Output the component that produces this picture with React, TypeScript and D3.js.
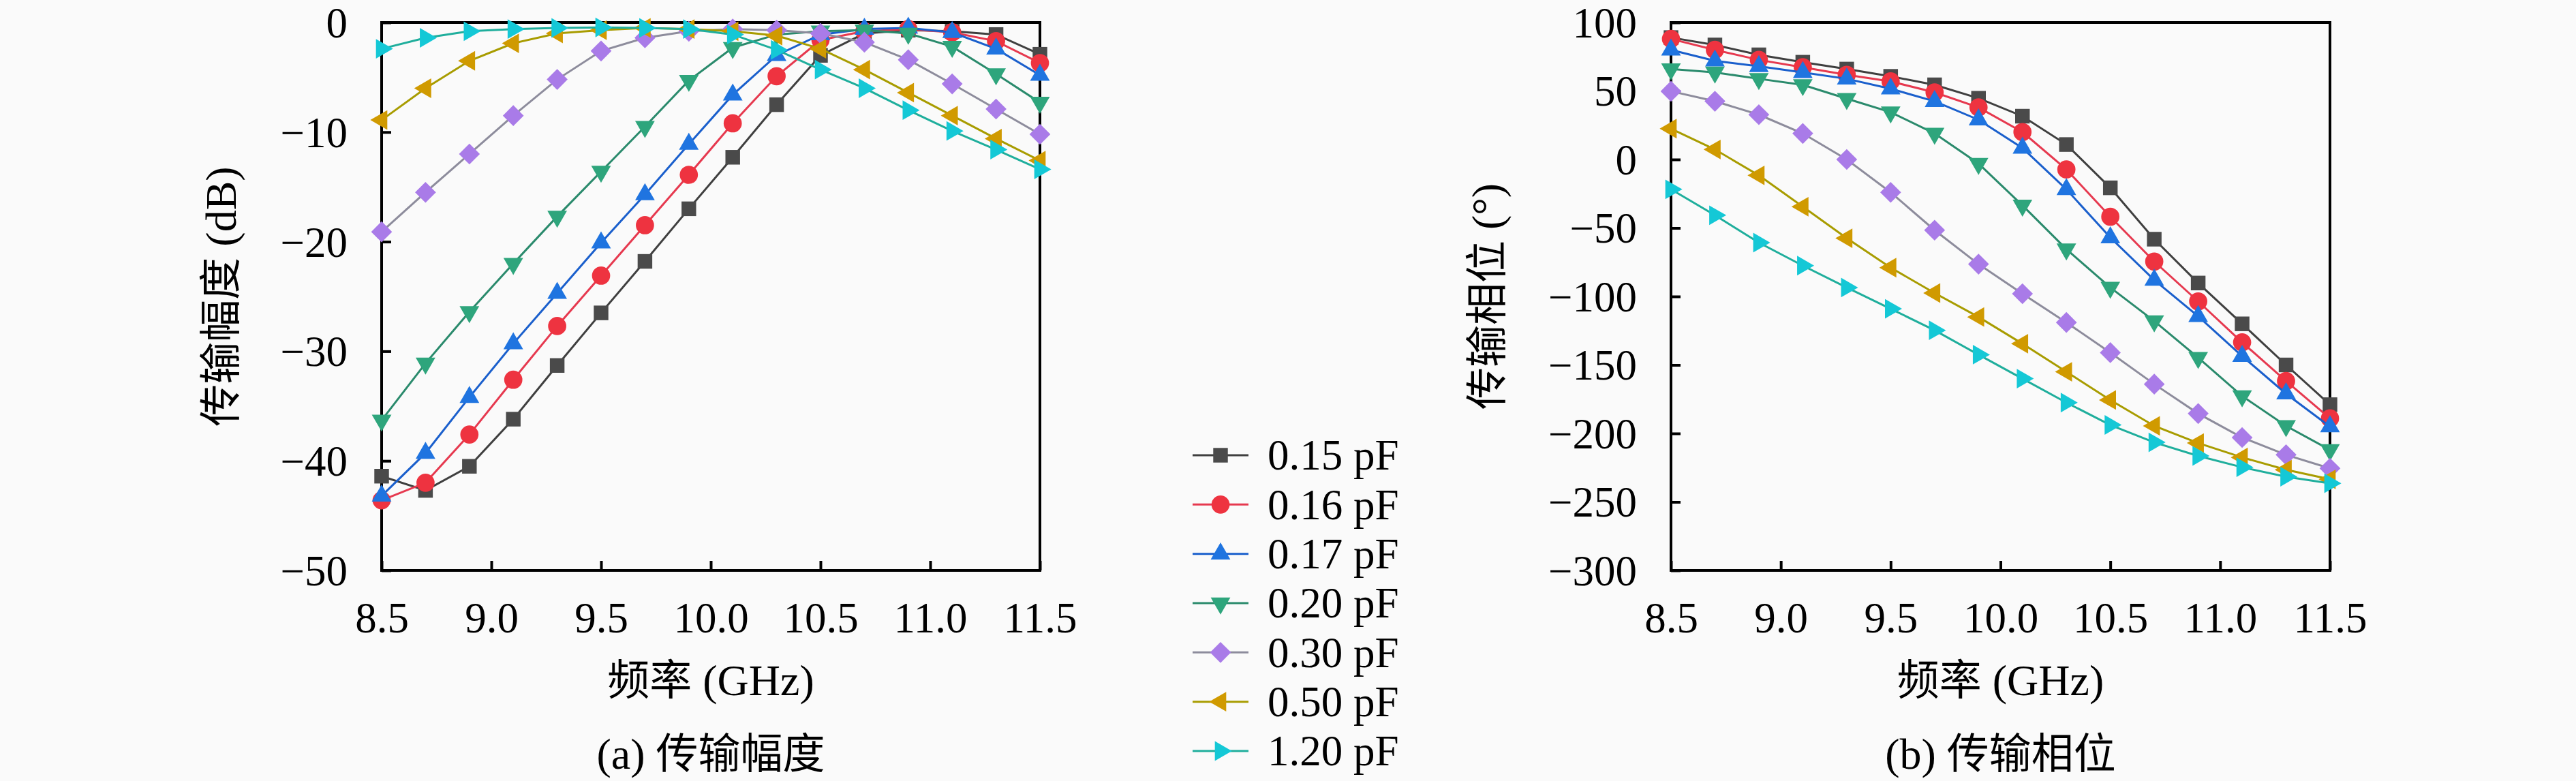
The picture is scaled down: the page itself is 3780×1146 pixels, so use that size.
import { useEffect, useRef } from 'react'
import * as d3 from 'd3'

// frequency sweep (GHz)
const freqs = [8.5, 8.7, 8.9, 9.1, 9.3, 9.5, 9.7, 9.9, 10.1, 10.3, 10.5, 10.7, 10.9, 11.1, 11.3, 11.5]

const capLabels = ['0.15 pF', '0.16 pF', '0.17 pF', '0.20 pF', '0.30 pF', '0.50 pF', '1.20 pF']
const lineColors = ['#3f3f3f', '#e6394f', '#1a5fcc', '#2a8a6c', '#8d8c9c', '#a89c00', '#1fae9c']
const markerColors = ['#4a4a4a', '#ee3340', '#1f74e0', '#2ea57c', '#a97be8', '#d09a00', '#14c8d6']
const markerShapes = ['square', 'circle', 'up', 'down', 'diamond', 'left', 'right']

// transmission magnitude (dB)
const mag015 = [-41.4, -42.7, -40.5, -36.2, -31.3, -26.5, -21.8, -17.0, -12.3, -7.5, -3.0, -1.0, -0.7, -0.8, -1.1, -2.9]
const mag016 = [-43.6, -42.0, -37.6, -32.6, -27.7, -23.1, -18.5, -13.9, -9.2, -4.9, -1.6, -0.8, -0.6, -0.9, -1.7, -3.7]
const mag017 = [-43.2, -39.3, -34.2, -29.3, -24.7, -20.1, -15.7, -11.1, -6.6, -3.0, -1.1, -0.6, -0.5, -0.9, -2.4, -4.8]
const mag020 = [-36.3, -31.1, -26.4, -22.0, -17.7, -13.6, -9.5, -5.3, -2.3, -1.1, -0.8, -0.7, -1.0, -2.2, -4.7, -7.3]
const mag030 = [-19.1, -15.5, -12.0, -8.5, -5.2, -2.6, -1.4, -0.8, -0.6, -0.7, -1.0, -1.8, -3.4, -5.6, -7.9, -10.2]
const mag050 = [-8.9, -6.0, -3.5, -1.9, -1.0, -0.7, -0.5, -0.6, -0.8, -1.2, -2.4, -4.3, -6.4, -8.5, -10.6, -12.6]
const mag120 = [-2.4, -1.4, -0.8, -0.6, -0.5, -0.45, -0.5, -0.6, -1.1, -2.5, -4.3, -6.0, -8.0, -9.9, -11.6, -13.4]

// transmission phase (deg)
const ph015 = [89, 83.6, 76.4, 71, 66, 60.7, 54.5, 44.7, 31.6, 10.9, -20.7, -58.2, -90.2, -120, -150, -179]
const ph016 = [88, 80, 72.7, 67.3, 61.8, 57, 49, 38, 20, -7.3, -41.8, -74.5, -103.6, -133.5, -161.8, -189]
const ph017 = [80, 72, 68, 63.6, 58.9, 51.6, 42.5, 29, 8.4, -21.8, -57, -88, -114.5, -143.6, -171, -195]
const ph020 = [66, 63.6, 58.9, 54.5, 44.4, 34.5, 19, -3, -33.5, -65.5, -93.5, -118, -144.7, -172.7, -194.5, -212]
const ph030 = [49.8, 42.5, 32.7, 19, 0, -24, -51.6, -76.4, -98, -119, -141, -164, -185.5, -203, -215.6, -225.5]
const ph050 = [22.5, 7.3, -11.6, -34.5, -57.5, -79, -97.5, -115, -134.5, -155, -175.6, -194.5, -207, -217.5, -226.5, -233.5]
const ph120 = [-21.8, -40.7, -60.7, -77.5, -93.5, -109, -124.7, -142.5, -160, -177.5, -193.8, -206.5, -216.4, -224.7, -231.6, -236.4]

const magSeries = [mag015, mag016, mag017, mag020, mag030, mag050, mag120]
const phaseSeries = [ph015, ph016, ph017, ph020, ph030, ph050, ph120]

const freqTicks = [8.5, 9.0, 9.5, 10.0, 10.5, 11.0, 11.5]
const magTicks = [0, -10, -20, -30, -40, -50]
const phaseTicks = [100, 50, 0, -50, -100, -150, -200, -250, -300]

const W = 3780
const H = 1146
const latin = '"Liberation Serif", "DejaVu Serif", serif'
const cjk = '"Noto Sans CJK SC", "Liberation Serif", serif'

function markerPath(shape: string) {
  switch (shape) {
    case 'square': return { d: d3.symbol(d3.symbolSquare, 460)()!, rot: 0 }
    case 'circle': return { d: d3.symbol(d3.symbolCircle, 560)()!, rot: 0 }
    case 'diamond': return { d: d3.symbol(d3.symbolSquare, 470)()!, rot: 45 }
    case 'up': return { d: d3.symbol(d3.symbolTriangle, 360)()!, rot: 0 }
    case 'down': return { d: d3.symbol(d3.symbolTriangle, 360)()!, rot: 180 }
    case 'left': return { d: d3.symbol(d3.symbolTriangle, 360)()!, rot: -90 }
    default: return { d: d3.symbol(d3.symbolTriangle, 360)()!, rot: 90 }
  }
}

// split mixed text so CJK and latin runs get their own font
function mixedText(sel: d3.Selection<SVGTextElement, unknown, null, undefined>, str: string) {
  const runs = str.match(/[\u4e00-\u9fff]+|[^\u4e00-\u9fff]+/g) || []
  runs.forEach(r => {
    const isCjk = /[\u4e00-\u9fff]/.test(r)
    sel.append('tspan')
      .style('font-family', isCjk ? cjk : latin)
      .style('font-size', isCjk ? '62px' : '64px')
      .text(r)
  })
}

export default function App() {
  const svgRef = useRef<SVGSVGElement>(null)

  useEffect(() => {
    if (!svgRef.current) return
    document.body.style.margin = '0'
    document.body.style.background = '#fafafa'

    const svg = d3.select(svgRef.current)
    svg.selectAll('*').remove()

    const drawPanel = (
      left: number, right: number, top: number, bottom: number,
      yDomain: [number, number], yTicks: number[], series: number[][],
      yTitle: string, yTitleX: number, caption: string
    ) => {
      const x = d3.scaleLinear().domain([8.5, 11.5]).range([left, right])
      const y = d3.scaleLinear().domain(yDomain).range([bottom, top])
      const g = svg.append('g')

      // frame
      g.append('rect')
        .attr('x', left).attr('y', top)
        .attr('width', right - left).attr('height', bottom - top)
        .attr('fill', 'none').attr('stroke', '#000').attr('stroke-width', 4)

      const xAxis = g.append('g')
        .attr('transform', `translate(0,${bottom})`)
        .call(d3.axisBottom(x).tickValues(freqTicks).tickSize(-14).tickPadding(46).tickFormat(d3.format('.1f')))
      const yAxis = g.append('g')
        .attr('transform', `translate(${left},0)`)
        .call(d3.axisLeft(y).tickValues(yTicks).tickSize(-14).tickPadding(50).tickFormat(d3.format('d')))

      for (const ax of [xAxis, yAxis]) {
        ax.select('.domain').remove()
        ax.selectAll('.tick line').attr('stroke', '#000').attr('stroke-width', 4)
        ax.selectAll('.tick text')
          .attr('fill', '#000')
          .style('font-family', latin)
          .style('font-size', '63px')
      }
      yAxis.selectAll('.tick text').attr('dy', '0.34em')

      // series lines then markers
      series.forEach((vals, i) => {
        const line = d3.line<number>()
          .x((_, j) => x(freqs[j]))
          .y(v => y(v))
        g.append('path')
          .attr('d', line(vals))
          .attr('fill', 'none')
          .attr('stroke', lineColors[i])
          .attr('stroke-width', 3)
        const m = markerPath(markerShapes[i])
        g.append('g').selectAll('path')
          .data(vals)
          .enter()
          .append('path')
          .attr('d', m.d)
          .attr('transform', (v, j) => `translate(${x(freqs[j])},${y(v)}) rotate(${m.rot})`)
          .attr('fill', markerColors[i])
      })

      const cx = (left + right) / 2
      const yt = g.append('text')
        .attr('transform', `translate(${yTitleX},${(top + bottom) / 2}) rotate(-90)`)
        .attr('text-anchor', 'middle')
        .attr('dy', '0.35em')
      mixedText(yt, yTitle)
      const xt = g.append('text')
        .attr('x', cx).attr('y', 1020)
        .attr('text-anchor', 'middle')
      mixedText(xt, '频率 (GHz)')
      const ct = g.append('text')
        .attr('x', cx).attr('y', 1128)
        .attr('text-anchor', 'middle')
      mixedText(ct, caption)
    }

    drawPanel(560, 1526, 33, 837, [-50, 0], magTicks, magSeries, '传输幅度 (dB)', 340, '(a) 传输幅度')
    drawPanel(2452, 3419, 33, 837, [-300, 100], phaseTicks, phaseSeries, '传输相位 (°)', 2198, '(b) 传输相位')

    // legend
    const legendY = d3.scalePoint<string>().domain(capLabels).range([668, 1102])
    const legend = svg.append('g')
    capLabels.forEach((label, i) => {
      const ly = legendY(label)!
      legend.append('line')
        .attr('x1', 1750).attr('x2', 1832)
        .attr('y1', ly).attr('y2', ly)
        .attr('stroke', lineColors[i]).attr('stroke-width', 3)
      const m = markerPath(markerShapes[i])
      legend.append('path')
        .attr('d', m.d)
        .attr('transform', `translate(1791,${ly}) rotate(${m.rot})`)
        .attr('fill', markerColors[i])
      legend.append('text')
        .attr('x', 1860).attr('y', ly)
        .attr('dy', '0.34em')
        .style('font-family', latin)
        .style('font-size', '63px')
        .text(label)
    })
  }, [])

  return <svg ref={svgRef} width={W} height={H} style={{ display: 'block', background: '#fafafa' }} />
}
